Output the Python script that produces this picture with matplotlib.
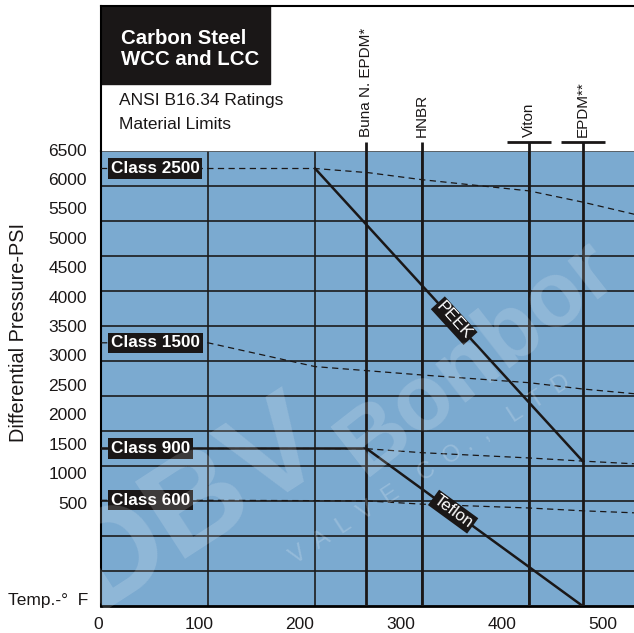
import numpy as np
import matplotlib
matplotlib.use("Agg")
from matplotlib import pyplot as plt
from matplotlib.patches import Rectangle

plt.rcParams['font.family'] = ['Liberation Sans', 'DejaVu Sans']

# pressure / temperature ratings (deg F, psi)
temps = [0, 100, 200, 250, 300, 400, 450, 500]
class_2500 = [6250, 6250, 6250, 6190, 6090, 5930, 5770, 5590]
class_1500 = [3760, 3760, 3420, 3360, 3300, 3190, 3100, 3030]
class_900 = [2250, 2250, 2250, 2245, 2190, 2115, 2070, 2030]
class_600 = [1510, 1510, 1505, 1500, 1455, 1400, 1360, 1330]
class_names = ['Class 2500', 'Class 1500', 'Class 900', 'Class 600']

# material limits
materials = ['Buna N. EPDM*', 'HNBR', 'Viton', 'EPDM**']
material_temps = [248, 300, 400, 450]
material_tbar = [False, False, True, True]

peek_temps = [200, 450]
peek_psi = [6250, 2070]
teflon_temps = [0, 248, 450]
teflon_psi = [2250, 2250, 0]

y_labels = [6500, 6000, 5500, 5000, 4500, 4000, 3500, 3000, 2500, 2000, 1500, 1000, 500]
x_labels = [0, 100, 200, 300, 400, 500]

blue = '#7baad0'
ink = '#1a1717'

fig = plt.figure(figsize=(6.34, 6.33), dpi=100)
W, H = 634.0, 633.0
ax = fig.add_axes([101 / W, 1 - 606 / H, 533 / W, 455 / H])
head = fig.add_axes([101 / W, 1 - 151 / H, 533 / W, 145 / H], sharex=ax)

ax.set_facecolor(blue)
ax.set_xlim(0, 498)
ax.set_ylim(0, 6500)
ax.set_xticks(np.arange(100, 500, 100))
ax.set_yticks(np.arange(500, 6500, 500))
ax.grid(True, color='#1c1c1c', lw=1.2)
ax.tick_params(length=0, labelbottom=False, labelleft=False)
ax.spines['right'].set_visible(False)
ax.spines['top'].set_color('#555555')
ax.spines['top'].set_linewidth(1.2)
ax.spines['left'].set_linewidth(1.5)
ax.spines['bottom'].set_linewidth(2)

# watermark
wm = dict(color='white', alpha=0.16, fontweight='bold', ha='center', va='center',
          transform=fig.transFigure, zorder=1.5)
fig.text(195 / W, 1 - 505 / H, 'DBV', fontsize=96, rotation=33, **wm)
fig.text(478 / W, 1 - 358 / H, 'Bonbor', fontsize=66, rotation=38, **wm)
fig.text(430 / W, 1 - 470 / H, 'V  A  L  V  E    C  O .  ,    L  T  D', fontsize=17,
         rotation=33, color='white', alpha=0.2, ha='center', va='center',
         transform=fig.transFigure)

# rating lines
dash = dict(color=ink, lw=0.9, dashes=(5, 3.5), zorder=3)
for vals in [class_2500, class_1500, class_900, class_600]:
    ax.plot(temps, vals, **dash)

# material limit lines
for t in material_temps:
    ax.axvline(t, color=ink, lw=2.0, zorder=3)

ax.plot(peek_temps, peek_psi, color=ink, lw=1.8, zorder=4)
ax.plot(teflon_temps, teflon_psi, color=ink, lw=1.8, zorder=4)

# class labels
for name, vals in zip(class_names, [class_2500, class_1500, class_900, class_600]):
    ax.text(9.3, vals[0], name, ha='left', va='center', fontsize=12.3,
            fontweight='bold', color='white', zorder=6,
            bbox=dict(boxstyle='square,pad=0.15', fc=ink, ec='none'))

# PEEK / Teflon labels along their lines
def line_label(tx, ty, x, text):
    p = ax.transData.transform(np.column_stack([tx[-2:], ty[-2:]]))
    ang = np.degrees(np.arctan2(p[1, 1] - p[0, 1], p[1, 0] - p[0, 0]))
    y = np.interp(x, tx, ty)
    ax.text(x, y, text, rotation=ang, rotation_mode='anchor', ha='center', va='center',
            fontsize=12, color='white', zorder=6,
            bbox=dict(boxstyle='square,pad=0.12', fc=ink, ec='none'))

line_label(peek_temps, peek_psi, 330, 'PEEK')
line_label(teflon_temps, teflon_psi, 329, 'Teflon')

# tick labels (the printed scale is offset from the grid in the original)
for v in y_labels:
    ypos = 6500 - (6500 - v) * 0.8405
    ax.text(-14 / 1.07, ypos, str(v), ha='right', va='center', fontsize=12.5, color=ink)
for v in x_labels:
    xpos = -2.8 + v * 0.9435
    ax.text(xpos, -0.025, str(v), ha='center', va='top', fontsize=12.5, color=ink,
            transform=ax.get_xaxis_transform())

fig.text(8 / W, 1 - 601 / H, 'Temp.-°  F', ha='left', va='center', fontsize=12.5, color=ink)
fig.text(18.5 / W, 1 - 333 / H, 'Differential Pressure-PSI', rotation=90, ha='center',
         va='center', fontsize=14.3, color=ink)

# header panel
head.set_ylim(0, 1)
head.set_facecolor('white')
head.tick_params(length=0, labelbottom=False, labelleft=False)
head.grid(False)
head.set_yticks([])
head.spines['right'].set_visible(False)
head.spines['bottom'].set_visible(False)
head.spines['top'].set_linewidth(1.5)
head.spines['left'].set_linewidth(1.5)

head.add_patch(Rectangle((0, 0.462), 158, 0.54, color=ink, zorder=2))
head.text(18.7, 0.738, 'Carbon Steel', ha='left', va='baseline', fontsize=14.7,
          fontweight='bold', color='white', zorder=3)
head.text(18.7, 0.593, 'WCC and LCC', ha='left', va='baseline', fontsize=14.7,
          fontweight='bold', color='white', zorder=3)
head.text(16.8, 0.317, 'ANSI B16.34 Ratings', ha='left', va='baseline', fontsize=12.5, color=ink)
head.text(16.8, 0.152, 'Material Limits', ha='left', va='baseline', fontsize=12.5, color=ink)

for name, t, tbar in zip(materials, material_temps, material_tbar):
    head.plot([t, t], [0, 0.065], color=ink, lw=2.0, solid_capstyle='butt')
    if tbar:
        head.plot([t - 20.5, t + 20.5], [0.065, 0.065], color=ink, lw=2.0,
                  solid_capstyle='butt')
    head.text(t, 0.097, name, rotation=90, ha='center', va='bottom', fontsize=11, color=ink)

fig.savefig('out.png', dpi=100)
